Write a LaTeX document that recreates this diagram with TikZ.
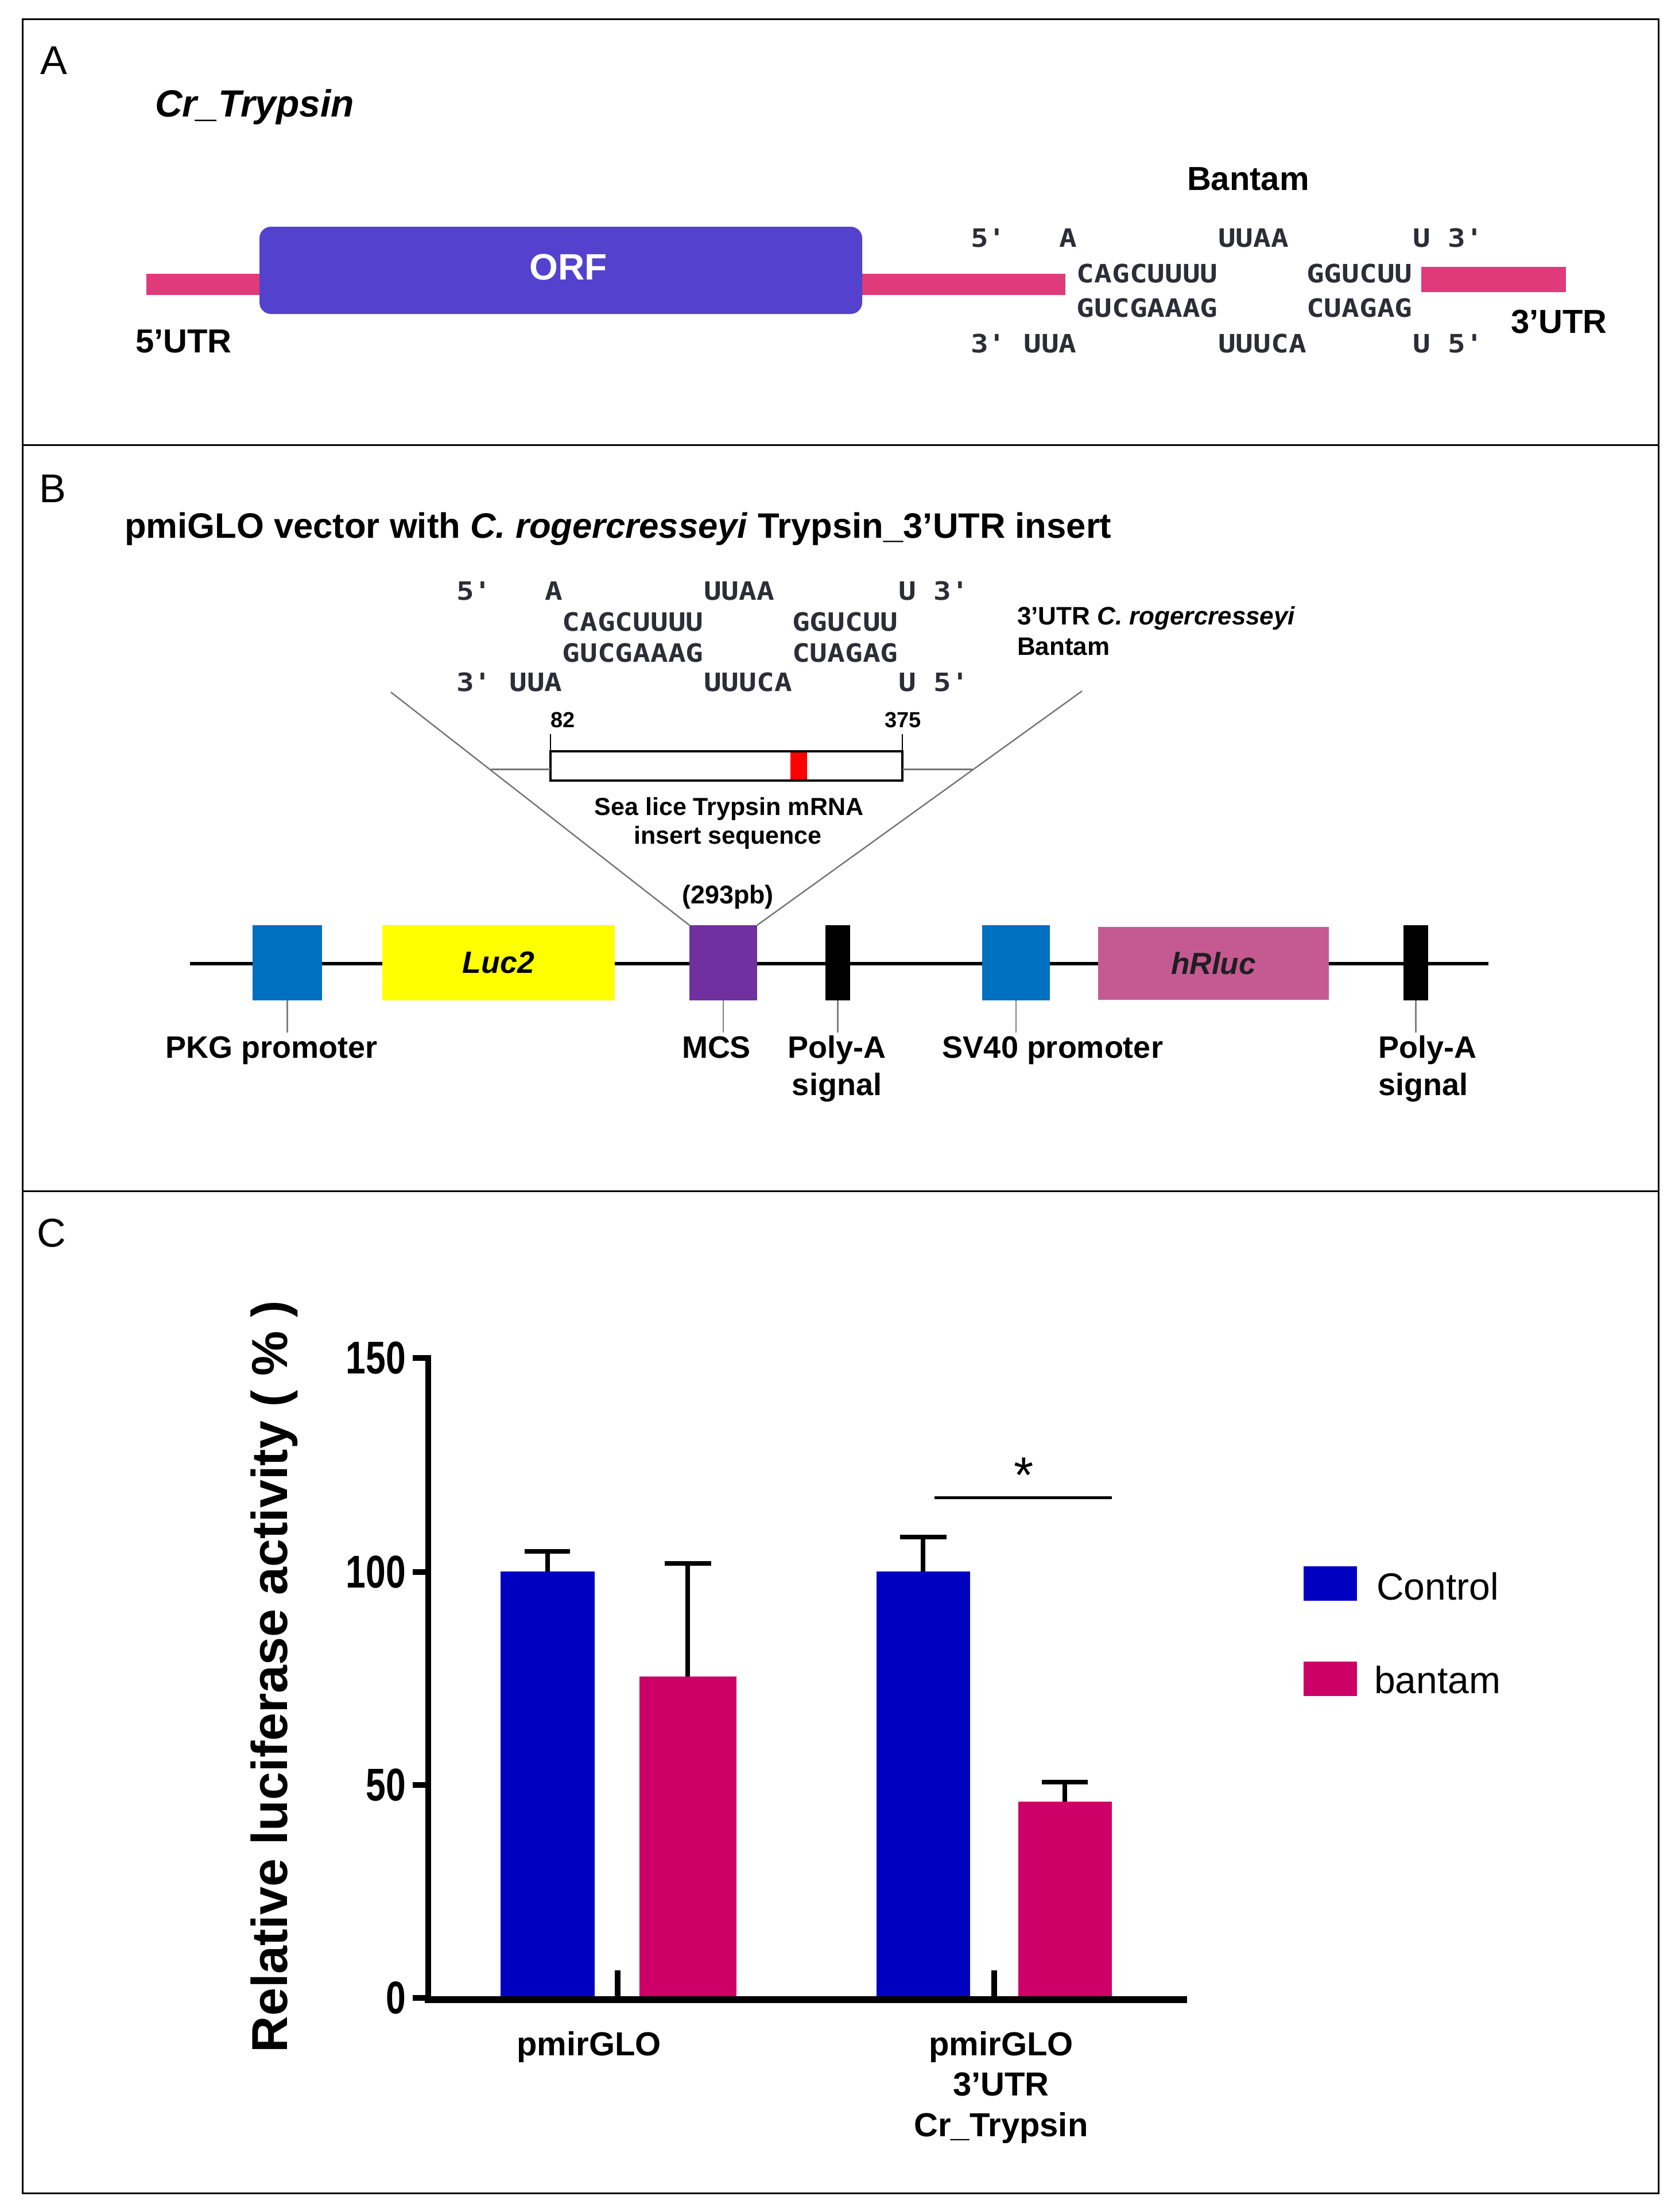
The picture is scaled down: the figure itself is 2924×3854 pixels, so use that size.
\documentclass[tikz,border=0pt]{standalone}
\usepackage{fontspec}
\setmainfont{Liberation Sans}
\setmonofont[FakeStretch=1.16]{DejaVu Sans Mono}
\newfontfamily\condfont[FakeStretch=0.78]{Liberation Sans}
\usetikzlibrary{fit}
\definecolor{orfc}{RGB}{84,66,206}
\definecolor{utrc}{RGB}{224,58,122}
\definecolor{pblue}{RGB}{0,112,192}
\definecolor{pyellow}{RGB}{255,255,0}
\definecolor{ppurple}{RGB}{112,48,160}
\definecolor{ppink}{RGB}{197,90,146}
\definecolor{cblue}{RGB}{0,0,192}
\definecolor{cmag}{RGB}{204,0,102}
\definecolor{rnagray}{RGB}{45,45,55}
\newcommand\rnaat[5]{\node[rnatext] (#1) at (#2+#4*30.8,#3) {#5};}
\begin{document}
\begin{tikzpicture}[x=0.25pt,y=-0.25pt,
  every node/.style={inner sep=0pt,outer sep=0pt},
  boxn/.style={inner sep=0pt,draw=none},
  panellab/.style={font=\fontsize{17.5}{20}\selectfont,anchor=base west},
  rnatext/.style={font=\ttfamily\bfseries\fontsize{11}{12}\selectfont,text=rnagray,anchor=base west},
  lblA/.style={font=\bfseries\fontsize{14.5}{16}\selectfont},
  lblB/.style={font=\bfseries\fontsize{13.5}{15}\selectfont,anchor=base},
  smallB/.style={font=\bfseries\fontsize{10.75}{12}\selectfont,anchor=base},
  tickln/.style={draw=gray,line width=0.6pt},
  funnel/.style={draw=gray!90!black,line width=0.6pt},
  ytick/.style={font=\condfont\bfseries\fontsize{20}{22}\selectfont,anchor=east},
  xlab/.style={font=\bfseries\fontsize{14.5}{16}\selectfont,anchor=base},
  legt/.style={font=\fontsize{16.5}{18}\selectfont,anchor=base west},
  axisln/.style={line width=2.5pt},
  errln/.style={line width=1.8pt}
]
\useasboundingbox (0,0) rectangle (2924,3854);
\fill[white] (0,0) rectangle (2924,3854);
% frame
\draw[line width=0.75pt] (39,33) rectangle (2889,3821);
\draw[line width=0.75pt] (39,775) -- (2889,775);
\draw[line width=0.75pt] (39,2075) -- (2889,2075);

% ---------------- Panel A
\node[panellab] (labA) at (70,129) {A};
\node[font=\bfseries\itshape\fontsize{16.5}{18}\selectfont,anchor=base west] (crt) at (270,203) {Cr\_Trypsin};
\node[boxn,fit={(255,477)(452,514)},fill=utrc] (utr5) {};
\node[boxn,fit={(1502,477)(1856,514)},fill=utrc] (utrm) {};
\node[boxn,fit={(2476,465)(2728,509)},fill=utrc] (utr3) {};
\node[boxn,fit={(452,395)(1502,547)},fill=orfc,rounded corners=5pt] (orf) {};
\node[font=\bfseries\fontsize{16}{18}\selectfont,text=white,anchor=base] (orft) at (990,487) {ORF};
\node[lblA,anchor=base west] (u5t) at (236,614) {5'UTR};
\node[lblA,anchor=base west] (u3t) at (2632,580) {3'UTR};
\node[lblA,anchor=base west] (bantA) at (2068,331) {Bantam};
% RNA duplex A
\rnaat{a11}{1691}{430}{0}{5'}
\rnaat{a12}{1691}{430}{5}{A}
\rnaat{a13}{1691}{430}{14}{UUAA}
\rnaat{a14}{1691}{430}{25}{U}
\rnaat{a15}{1691}{430}{27}{3'}
\rnaat{a21}{1691}{492}{6}{CAGCUUUU}
\rnaat{a22}{1691}{492}{19}{GGUCUU}
\rnaat{a31}{1691}{552}{6}{GUCGAAAG}
\rnaat{a32}{1691}{552}{19}{CUAGAG}
\rnaat{a41}{1691}{614}{0}{3'}
\rnaat{a42}{1691}{614}{3}{UUA}
\rnaat{a43}{1691}{614}{14}{UUUCA}
\rnaat{a44}{1691}{614}{25}{U}
\rnaat{a45}{1691}{614}{27}{5'}

% ---------------- Panel B
\node[panellab] (labB) at (68,875) {B};
\node[font=\bfseries\fontsize{15.4}{17}\selectfont,anchor=base west] (titleB) at (217,937) {pmiGLO vector with \textit{C. rogercresseyi} Trypsin\_3'UTR insert};
\rnaat{b11}{795}{1045}{0}{5'}
\rnaat{b12}{795}{1045}{5}{A}
\rnaat{b13}{795}{1045}{14}{UUAA}
\rnaat{b14}{795}{1045}{25}{U}
\rnaat{b15}{795}{1045}{27}{3'}
\rnaat{b21}{795}{1099}{6}{CAGCUUUU}
\rnaat{b22}{795}{1099}{19}{GGUCUU}
\rnaat{b31}{795}{1153}{6}{GUCGAAAG}
\rnaat{b32}{795}{1153}{19}{CUAGAG}
\rnaat{b41}{795}{1204}{0}{3'}
\rnaat{b42}{795}{1204}{3}{UUA}
\rnaat{b43}{795}{1204}{14}{UUUCA}
\rnaat{b44}{795}{1204}{25}{U}
\rnaat{b45}{795}{1204}{27}{5'}
\node[font=\bfseries\fontsize{11}{12}\selectfont,anchor=base west] (utrlab) at (1772,1088) {3'UTR \textit{C. rogercresseyi}};
\node[font=\bfseries\fontsize{11}{12}\selectfont,anchor=base west] (bantB) at (1772,1141) {Bantam};
% vector backbone
\coordinate (vl) at (331,1679);
\coordinate (vr) at (2593,1679);
\draw[line width=1.5pt] (vl) -- (vr);
\node[boxn,fit={(440,1612)(561,1743)},fill=pblue] (pkg) {};
\node[boxn,fit={(666,1612)(1071,1743)},fill=pyellow] (luc) {};
\node[boxn,fit={(1201,1612)(1319,1743)},fill=ppurple] (mcs) {};
\node[boxn,fit={(1438,1612)(1481,1743)},fill=black] (pa1) {};
\node[boxn,fit={(1711,1612)(1829,1743)},fill=pblue] (sv40) {};
\node[boxn,fit={(1913,1615)(2315,1742)},fill=ppink] (hrl) {};
\node[boxn,fit={(2445,1612)(2488,1743)},fill=black] (pa2) {};
\node[font=\bfseries\itshape\fontsize{13.4}{15}\selectfont] (luct) at (luc.center) {Luc2};
\node[font=\bfseries\itshape\fontsize{13.3}{15}\selectfont,text=black!88] (hrlt) at (hrl.center) {hRluc};
% ticks under boxes
\draw[tickln] (pkg.south) -- ++(0,56);
\draw[tickln] (mcs.south) -- ++(0,56);
\draw[tickln] (pa1.south) -- ++(0,56);
\draw[tickln] (sv40.south) -- ++(0,56);
\draw[tickln] (pa2.south) -- ++(0,56);
\node[lblB] (pkgt) at (473,1843) {PKG promoter};
\node[lblB] (mcst) at (1248,1843) {MCS};
\node[lblB] (pa1t) at (1458,1843) {Poly-A};
\node[lblB] (pa1s) at (1458,1908) {signal};
\node[lblB] (sv40t) at (1834,1843) {SV40 promoter};
\node[lblB,anchor=base west] (pa2t) at (2401,1843) {Poly-A};
\node[lblB,anchor=base west] (pa2s) at (2401,1908) {signal};
% insert
\coordinate (fl) at (681,1206);
\coordinate (fr) at (1885,1204);
\draw[funnel] (fl) -- (mcs.north west);
\draw[funnel] (fr) -- (mcs.north east);
\node[boxn,fit={(959,1309)(1572,1360)},fill=white,draw=black,line width=1pt] (ins) {};
\coordinate (gl) at (855,1340);
\coordinate (gr) at (1694,1340);
\draw[funnel,line width=0.75pt] (gl) -- (ins.west |- gl);
\draw[funnel,line width=0.75pt] (ins.east |- gr) -- (gr);
\node[boxn,fit={(1377,1311)(1406,1358)},fill=red] (mark) {};
\draw[line width=0.5pt] (ins.north west) -- ++(0,-30);
\draw[line width=0.5pt] (ins.north east) -- ++(0,-30);
\node[font=\bfseries\fontsize{9.5}{11}\selectfont,anchor=base west] (n82) at (959,1267) {82};
\node[font=\bfseries\fontsize{9.5}{11}\selectfont,anchor=base] (n375) at (1573,1267) {375};
\node[smallB] (sea1) at (1270,1420) {Sea lice Trypsin mRNA};
\node[smallB] (sea2) at (1268,1470) {insert sequence};
\node[font=\bfseries\fontsize{11.2}{12}\selectfont,anchor=base] (bp) at (1268,1574) {(293pb)};

% ---------------- Panel C
\node[panellab] (labC) at (65,2172) {C};
% bars
\node[boxn,fit={(872,2738)(1036,3483)},fill=cblue] (bar1) {};
\node[boxn,fit={(1114,2921)(1283,3483)},fill=cmag] (bar2) {};
\node[boxn,fit={(1527,2738)(1690,3483)},fill=cblue] (bar3) {};
\node[boxn,fit={(1774,3139)(1937,3483)},fill=cmag] (bar4) {};
% error bars
\coordinate (e1) at (954,2703);
\coordinate (e2) at (1198,2724);
\coordinate (e3) at (1608,2678);
\coordinate (e4) at (1855,3105);
\draw[errln] (bar1.north -| e1) -- (e1);
\draw[errln] (914,2703) -- (993,2703);
\draw[errln] (bar2.north -| e2) -- (e2);
\draw[errln] (1158,2724) -- (1239,2724);
\draw[errln] (bar3.north -| e3) -- (e3);
\draw[errln] (1568,2678) -- (1649,2678);
\draw[errln] (bar4.north -| e4) -- (e4);
\draw[errln] (1815,3105) -- (1895,3105);
% axes
\coordinate (ytop) at (746,2361);
\coordinate (orig) at (746,3484);
\coordinate (xend) at (2068,3484);
\draw[axisln] (ytop) -- (746,3490);
\draw[line width=3pt] (740,3484) -- (xend);
\foreach \v/\yy in {150/2366,100/2739,50/3110,0/3481}{
  \draw[axisln] (719,\yy) -- (746,\yy);
  \node[ytick] (yt\v) at (707,\yy) {\v};
}
\draw[axisln] (1076,3433) -- (1076,3484);
\draw[axisln] (1732,3433) -- (1732,3484);
\node[font=\bfseries\fontsize{22}{24}\selectfont,rotate=90,anchor=base] (ylab) at (500,2921) {Relative luciferase activity ( \% )};
\node[xlab] (xl1) at (1026,3581) {pmirGLO};
\node[xlab] (xl2a) at (1744,3581) {pmirGLO};
\node[xlab] (xl2b) at (1744,3651) {3'UTR};
\node[xlab] (xl2c) at (1744,3722) {Cr\_Trypsin};
% significance
\coordinate (s1) at (1628,2609);
\coordinate (s2) at (1937,2609);
\draw[line width=1.25pt] (s1) -- (s2);
\node[font=\fontsize{22}{22}\selectfont,anchor=base] (star) at (1784,2600) {*};
% legend
\node[boxn,fit={(2271,2729)(2364,2789)},fill=cblue] (lg1) {};
\node[boxn,fit={(2271,2895)(2364,2955)},fill=cmag] (lg2) {};
\node[legt] (lg1t) at (2398,2787) {Control};
\node[legt] (lg2t) at (2394,2950) {bantam};
\end{tikzpicture}
\end{document}
